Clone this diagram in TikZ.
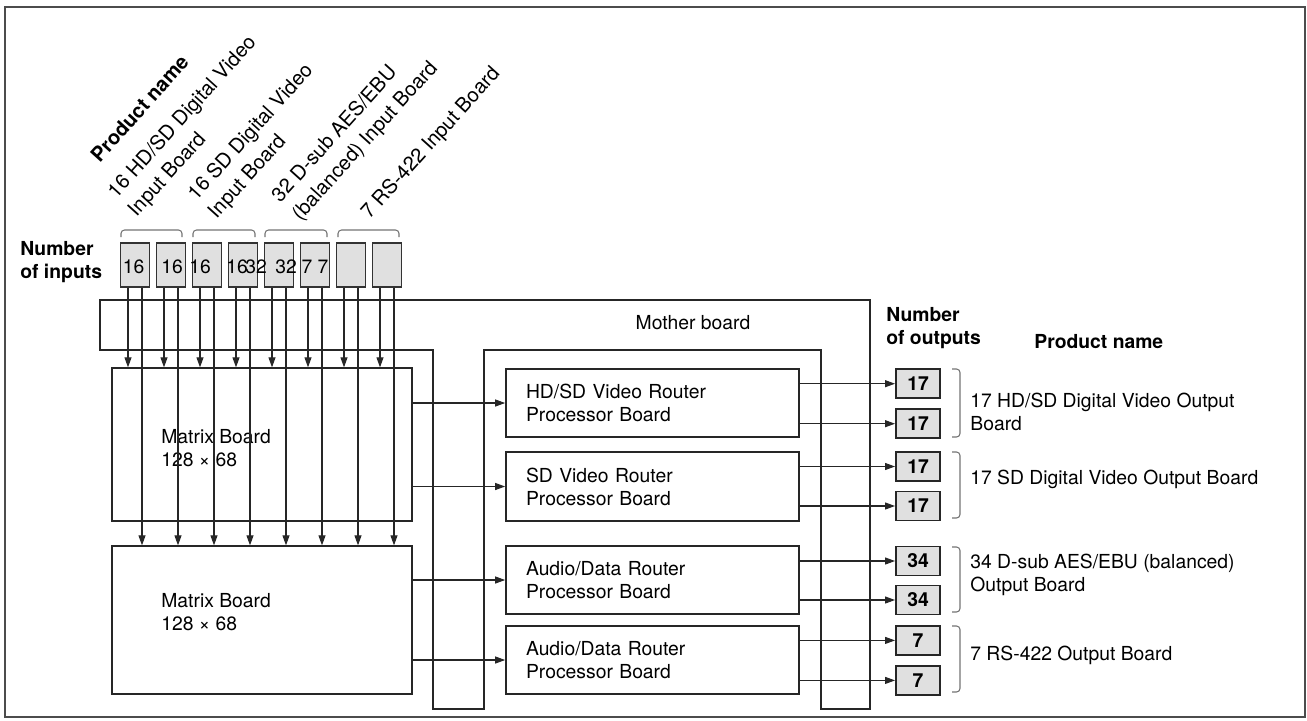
\documentclass[tikz,border=0pt]{standalone}
\usepackage{fontspec}
\setmainfont{TeX Gyre Heros}
\usetikzlibrary{arrows.meta}

\tikzset{
  inbox/.style={draw=black!80, line width=0.9pt, fill=black!12, minimum width=0.58cm, minimum height=0.88cm, inner sep=0pt},
  outbox/.style={draw=black!85, line width=1.1pt, fill=black!12, minimum width=0.88cm, minimum height=0.58cm, inner sep=0pt, font=\fontsize{11}{13}\selectfont\bfseries},
  matrixboard/.style={draw=black!85, line width=1pt, minimum width=6cm, inner sep=0pt},
  router/.style={draw=black!85, line width=1pt, minimum height=1.37cm, text width=5.06cm, inner xsep=0.4cm, align=left},
  txt/.style={inner sep=0pt, align=left, anchor=west},
  boldtxt/.style={txt, font=\fontsize{11}{13}\selectfont\bfseries},
  rotlabel/.style={rotate=48, anchor=south west, inner sep=0pt, align=left, font=\fontsize{11.5}{15.5}\selectfont},
  flow/.style={draw=black!85, line width=0.6pt, -{Triangle[length=0.2cm,width=0.14cm]}},
  brace/.style={draw=black!55, line width=0.6pt, rounded corners=2pt},
}

\begin{document}
\begin{tikzpicture}[x=0.02cm, y=-0.02cm, font=\fontsize{11}{13}\selectfont]
  \useasboundingbox (0,0) rectangle (1307,720);
  \draw[black!70, line width=1.1pt] (5,7) rectangle (1305,717);

  % mother board
  \draw[black!85, line width=0.8pt] (100,300) -- (870,300) -- (870,709) -- (821,709) -- (821,350)
    -- (484,350) -- (484,709) -- (433,709) -- (433,350) -- (100,350) -- cycle;
  \node (mother) at (693,323) {Mother board};

  % input side
  \node[boldtxt] (numin) at (20,262) {Number\\of inputs};
  \foreach \i in {1,...,8}
    \node[inbox] (in\i) at ({135+36*(\i-1)},265) {};
  \node (nA) at (133.5,266.7) {16};
  \node (nB) at (172,266.7) {16};
  \node (nC) at (200,266.7) {16};
  \node (nD) at (237,266.7) {16};
  \node (nE) at (256,266.7) {32};
  \node (nF) at (286,266.7) {32};
  \node (nG) at (315,266.7) {7 7};

  \foreach \l/\r in {121/182, 193/255, 265/327, 338/399}
    \draw[brace] (\l,237) -- (\l,230) -- (\r,230) -- (\r,237);

  \node[rotlabel, font=\fontsize{11.5}{14}\selectfont\bfseries] (pname) at (100,164) {Product name};
  \node[rotlabel] (inA) at (140,221) {16 HD/SD Digital Video\\Input Board};
  \node[rotlabel] (inB) at (220,223) {16 SD Digital Video\\Input Board};
  \node[rotlabel] (inC) at (304,225) {32 D-sub AES/EBU\\(balanced) Input Board};
  \node[rotlabel] (inD) at (373,223) {7 RS-422 Input Board};

  % matrix boards
  \node[matrixboard, minimum height=3.06cm] (mbA) at (261.7,444.7) {};
  \node[matrixboard, minimum height=2.96cm] (mbB) at (261.7,620.2) {};
  \node[txt] (mbAtext) at (161,448.5) {Matrix Board\\128 × 68};
  \node[txt] (mbBtext) at (161,612.5) {Matrix Board\\128 × 68};

  \foreach \i in {1,...,8} {
    \draw[flow] ([xshift=-0.14cm]in\i.south) -- ([xshift=-0.14cm]in\i.south |- mbA.north);
    \draw[flow] ([xshift=0.14cm]in\i.south) -- ([xshift=0.14cm]in\i.south |- mbB.north);
  }

  % router processor boards
  \node[router] (rtA) at (652.5,403) {HD/SD Video Router\\Processor Board};
  \node[router] (rtB) at (652.5,486.5) {SD Video Router\\Processor Board};
  \node[router] (rtC) at (652.5,580) {Audio/Data Router\\Processor Board};
  \node[router] (rtD) at (652.5,660) {Audio/Data Router\\Processor Board};

  \draw[flow] (rtA.west -| mbA.east) -- (rtA.west);
  \draw[flow] (rtB.west -| mbA.east) -- (rtB.west);
  \draw[flow] (rtC.west -| mbB.east) -- (rtC.west);
  \draw[flow] (rtD.west -| mbB.east) -- (rtD.west);

  % output side
  \node[boldtxt] (numout) at (886,328) {Number\\of outputs};
  \node[boldtxt] (pnameout) at (1034,342) {Product name};

  \node[outbox] (outA) at (918,383.7) {17};
  \node[outbox] (outB) at (918,423.7) {17};
  \node[outbox] (outC) at (918,466.5) {17};
  \node[outbox] (outD) at (918,506) {17};
  \node[outbox] (outE) at (918,561) {34};
  \node[outbox] (outF) at (918,600) {34};
  \node[outbox] (outG) at (918,640.4) {7};
  \node[outbox] (outH) at (918,680.4) {7};

  \foreach \o/\r in {A/A, B/A, C/B, D/B, E/C, F/C, G/D, H/D}
    \draw[flow] (out\o.west -| rt\r.east) -- (out\o.west);

  \foreach \t/\b in {369/437, 452/518, 547/612, 626/692}
    \draw[brace] (952,\t) -- (960,\t) -- (960,\b) -- (952,\b);

  \node[txt] (lblA) at (970,411.6) {17 HD/SD Digital Video Output\\Board};
  \node[txt] (lblB) at (970,479) {17 SD Digital Video Output Board};
  \node[txt] (lblC) at (970,574.7) {34 D-sub AES/EBU (balanced)\\Output Board};
  \node[txt] (lblD) at (970,655) {7 RS-422 Output Board};
\end{tikzpicture}
\end{document}
